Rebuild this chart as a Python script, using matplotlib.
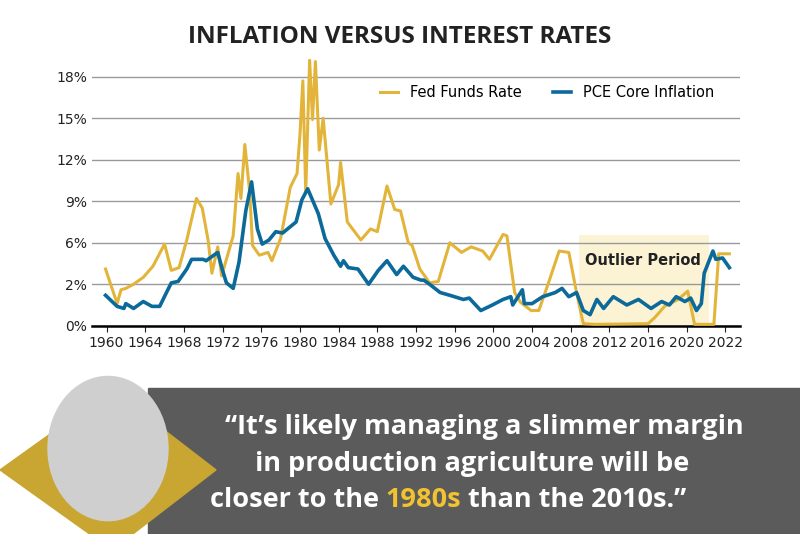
import matplotlib.pyplot as plt
from matplotlib.patches import Polygon, Rectangle, Ellipse

# Fed Funds Rate (year, %)
fed_years = [1959.9, 1961.1, 1961.5, 1962.0, 1962.8, 1963.8, 1964.8, 1966.0, 1966.7, 1967.5,
             1968.3, 1969.3, 1969.9, 1970.5, 1970.9, 1971.5, 1971.9, 1973.1, 1973.6, 1973.9,
             1974.3, 1974.8, 1975.1, 1975.8, 1976.7, 1977.1, 1978.0, 1979.0, 1979.7, 1980.0,
             1980.3, 1980.6, 1981.0, 1981.3, 1981.6, 1982.0, 1982.4, 1983.2, 1984.0, 1984.2,
             1984.9, 1986.3, 1987.3, 1988.0, 1989.0, 1989.8, 1990.4, 1991.2, 1991.6, 1992.4,
             1993.4, 1994.3, 1995.5, 1996.7, 1997.7, 1998.9, 1999.6, 2001.0, 2001.4, 2002.2,
             2002.8, 2003.9, 2004.7, 2005.7, 2006.8, 2007.8, 2008.6, 2009.3, 2010.5, 2016.0,
             2016.7, 2017.7, 2019.1, 2020.1, 2020.8, 2022.8, 2023.3, 2024.4]
fed_rate = [4.1, 1.6, 2.6, 2.7, 3.0, 3.5, 4.3, 5.9, 4.0, 4.2,
            6.2, 9.2, 8.5, 6.2, 3.8, 5.7, 3.6, 6.5, 11.0, 9.2,
            13.1, 9.7, 5.8, 5.1, 5.3, 4.7, 6.3, 10.0, 11.0, 13.8,
            17.7, 9.7, 19.2, 14.9, 19.1, 12.7, 15.0, 8.8, 10.2, 11.8,
            7.5, 6.2, 7.0, 6.8, 10.1, 8.4, 8.3, 6.0, 5.8, 4.1,
            3.1, 3.2, 6.0, 5.3, 5.7, 5.4, 4.8, 6.6, 6.5, 2.4,
            1.7, 1.1, 1.1, 3.1, 5.4, 5.3, 2.4, 0.15, 0.1, 0.15,
            0.6, 1.4, 1.9, 2.5, 0.1, 0.1, 5.2, 5.2]

# PCE Core Inflation (year, %)
pce_years = [1959.9, 1961.1, 1961.8, 1962.0, 1962.8, 1963.8, 1964.7, 1965.5, 1966.2, 1966.7,
             1967.4, 1968.3, 1968.8, 1970.0, 1970.3, 1971.5, 1972.0, 1972.4, 1973.1, 1973.7,
             1974.4, 1975.0, 1975.6, 1976.1, 1976.8, 1977.5, 1978.2, 1979.6, 1980.2, 1980.8,
             1981.9, 1982.6, 1983.5, 1984.2, 1984.5, 1985.0, 1986.0, 1987.1, 1988.1, 1989.0,
             1990.0, 1990.7, 1991.7, 1992.5, 1992.8, 1993.4, 1994.5, 1995.5, 1996.9, 1997.5,
             1998.7, 1999.9, 2001.0, 2001.8, 2002.0, 2003.0, 2003.2, 2004.0, 2005.1, 2006.4,
             2007.1, 2007.8, 2008.6, 2009.3, 2010.0, 2010.7, 2011.4, 2012.4, 2013.8, 2015.0,
             2016.3, 2017.4, 2018.2, 2018.9, 2019.8, 2020.4, 2021.0, 2021.5, 2021.8, 2022.7,
             2023.0, 2023.7, 2024.4]
pce_rate = [2.2, 1.4, 1.25, 1.6, 1.25, 1.75, 1.4, 1.4, 2.4, 3.1,
            3.2, 4.1, 4.8, 4.8, 4.7, 5.3, 4.0, 3.1, 2.7, 4.6,
            8.3, 10.4, 7.0, 5.9, 6.2, 6.8, 6.7, 7.5, 9.1, 9.9,
            8.1, 6.3, 5.1, 4.3, 4.7, 4.2, 4.1, 3.0, 4.0, 4.7,
            3.7, 4.3, 3.5, 3.3, 3.3, 3.0, 2.4, 2.2, 1.9, 2.0,
            1.1, 1.5, 1.9, 2.1, 1.5, 2.6, 1.6, 1.6, 2.1, 2.4,
            2.7, 2.1, 2.4, 1.1, 0.8, 1.9, 1.25, 2.1, 1.5, 1.9,
            1.25, 1.75, 1.5, 2.1, 1.75, 2.0, 1.1, 1.6, 3.8, 5.4,
            4.8, 4.9, 4.2]

tick_years = list(range(1960, 2025, 4))
tick_labels = [str(y) for y in range(1960, 2021, 4)] + ['2022']
y_ticks = [0, 3, 6, 9, 12, 15, 18]
y_labels = ['0%', '2%', '6%', '9%', '12%', '15%', '18%']

gold = '#e2b53a'
blue = '#0b6a9a'

fig = plt.figure(figsize=(8, 5.34), dpi=100)
fig.text(0.5, 0.93, 'INFLATION VERSUS INTEREST RATES', ha='center', va='center',
         fontsize=17.5, fontweight='bold', color='#222222', family='Open Sans')

ax = fig.add_axes([0.115, 0.39, 0.81, 0.5])
ax.axvspan(2008.9, 2022.3, ymin=0, ymax=6.6 / 19.5, color='#fbeec4', alpha=0.7, lw=0, zorder=0)
ax.text(2015.5, 4.7, 'Outlier Period', ha='center', va='center', fontsize=10.5,
        fontweight='bold', color='#222222')
ax.plot(fed_years, fed_rate, color=gold, lw=2.2, label='Fed Funds Rate', zorder=3)
ax.plot(pce_years, pce_rate, color=blue, lw=2.6, label='PCE Core Inflation', zorder=4)

ax.set_xlim(1958.5, 2025.5)
ax.set_ylim(0, 19.3)
ax.set_yticks(y_ticks)
ax.set_yticklabels(y_labels)
ax.set_xticks(tick_years)
ax.set_xticklabels(tick_labels)
ax.yaxis.grid(True, color='#9a9a9a', lw=1)
ax.set_axisbelow(True)
for s in ['top', 'right', 'left']:
    ax.spines[s].set_visible(False)
ax.spines['bottom'].set_linewidth(1.8)
ax.tick_params(axis='y', length=0, labelsize=10, colors='#222222')
ax.tick_params(axis='x', length=4, labelsize=10, colors='#222222')
ax.legend(loc='upper right', ncol=2, frameon=False, fontsize=10.5,
          bbox_to_anchor=(0.98, 0.95), handlelength=1.2, columnspacing=2.2)

# bottom quote band
fig.patches.append(Rectangle((0.185, 0), 0.815, 0.273, transform=fig.transFigure,
                             color='#5b5b5b', zorder=0))
fig.patches.append(Polygon([(0.0, 0.12), (0.14, 0.27), (0.27, 0.12), (0.14, -0.03)],
                           closed=True, transform=fig.transFigure, color='#c9a632', zorder=1))
fig.patches.append(Ellipse((0.135, 0.16), 0.15, 0.27, transform=fig.transFigure,
                           color='#cfcfcf', zorder=2))

qkw = dict(fontsize=19.5, fontweight='bold', family='Open Sans', va='center')
fig.text(0.605, 0.2, '\u201cIt\u2019s likely managing a slimmer margin', ha='center',
         color='white', **qkw)
fig.text(0.59, 0.132, 'in production agriculture will be', ha='center', color='white', **qkw)

# third line: measure pieces so the gold word sits inline
parts = [('closer to the ', 'white'), ('1980s', '#f2c230'), (' than the 2010s.\u201d', 'white')]
renderer = fig.canvas.get_renderer()
x = 0.262
for txt, col in parts:
    t = fig.text(x, 0.063, txt, ha='left', color=col, **qkw)
    w = t.get_window_extent(renderer=renderer).width / fig.bbox.width
    x += w

fig.savefig('out.png', dpi=100)
